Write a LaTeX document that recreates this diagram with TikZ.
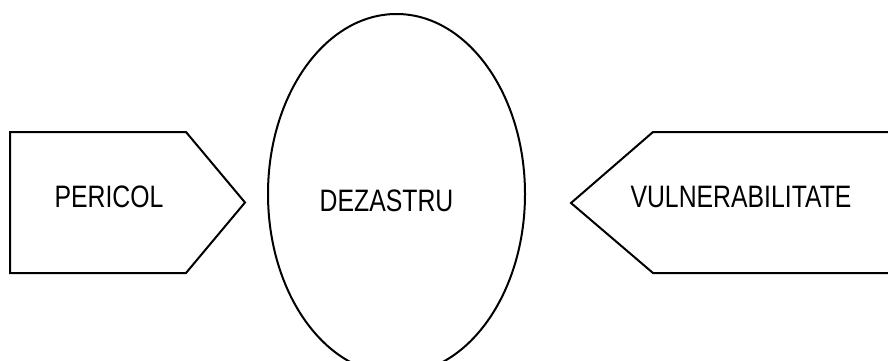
\documentclass[tikz,border=0pt]{standalone}
\usepackage{fontspec}
\setmainfont{Liberation Sans}[FakeStretch=0.8]
\usetikzlibrary{shapes.geometric}

\begin{document}
\begin{tikzpicture}[x=1pt,y=1pt,line width=2pt,font=\fontsize{31}{36}\selectfont]
   \useasboundingbox (0,0) rectangle (888,360);
   \clip (0,0) rectangle (888,360);
   % left arrow box
   \coordinate (p1) at (10,228);
   \coordinate (p2) at (186,228);
   \coordinate (p3) at (245,157.5);
   \coordinate (p4) at (186,87);
   \coordinate (p5) at (10,87);
   \draw (p1) -- (p2) -- (p3) -- (p4) -- (p5) -- cycle;
   \node (pericol) at (109,163.5) {PERICOL};
   % ellipse
   \node[draw,ellipse,minimum width=257pt,minimum height=360pt,inner sep=0pt] (dezastru) at (396.5,166) {};
   \node (dezastrutext) at (386.5,159) {DEZASTRU};
   % right arrow box
   \coordinate (v1) at (571,157);
   \coordinate (v2) at (653,228);
   \coordinate (v3) at (900,228);
   \coordinate (v4) at (900,87);
   \coordinate (v5) at (653,87);
   \draw (v1) -- (v2) -- (v3) -- (v4) -- (v5) -- cycle;
   \node (vulnerab) at (741,163.5) {VULNERABILITATE};
\end{tikzpicture}
\end{document}
